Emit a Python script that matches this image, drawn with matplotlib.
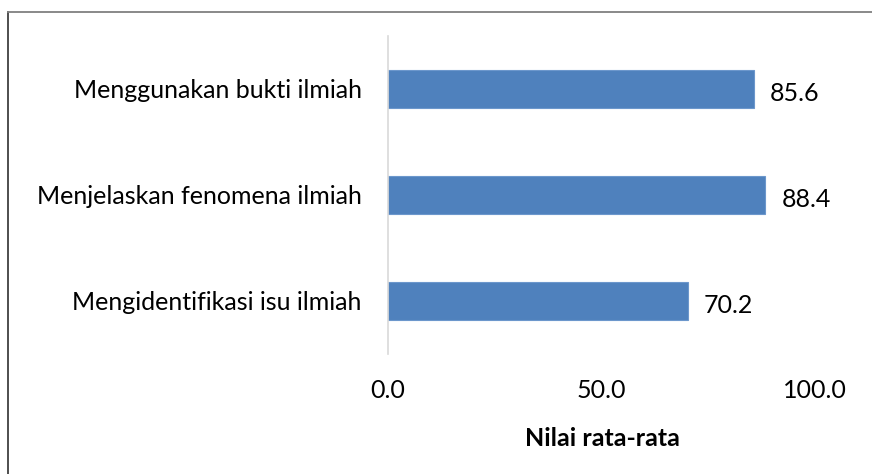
import matplotlib
matplotlib.use('Agg')
import matplotlib.pyplot as plt
from matplotlib.lines import Line2D

plt.rcParams['font.family'] = ['Lato', 'DejaVu Sans']

categories = ['Mengidentifikasi isu ilmiah', 'Menjelaskan fenomena ilmiah', 'Menggunakan bukti ilmiah']
values = [70.2, 88.4, 85.6]
xticks = [0, 50, 100]
xlabel = 'Nilai rata-rata'

BAR_COLOR = '#4F81BD'
FS = 18


def main():
    fig = plt.figure(figsize=(8.72, 4.74), dpi=100)
    ax = fig.add_axes([388/872, 1 - 354/474, (815 - 388)/872, (354 - 36)/474])

    y = range(len(categories))
    ax.barh(y, values, height=0.35, color=BAR_COLOR, edgecolor='#6C97CC', linewidth=0.8)
    for yi, v in zip(y, values):
        ax.text(v + 3.7, yi - 0.045, f'{v:.1f}', va='center', ha='left', fontsize=FS)

    ax.set_xlim(0, 100)
    ax.set_ylim(-0.5, 2.5)
    ax.set_xticks(xticks)
    ax.set_xticklabels([f'{t:.1f}' for t in xticks], fontsize=FS)
    ax.set_yticks(list(y))
    ax.set_yticklabels(categories, fontsize=FS)
    ax.tick_params(axis='both', length=0)
    ax.tick_params(axis='x', pad=18)
    ax.tick_params(axis='y', pad=19)

    for s in ['top', 'right', 'bottom']:
        ax.spines[s].set_visible(False)
    ax.spines['left'].set_color('#D9D9D9')
    ax.spines['left'].set_linewidth(1.2)

    fig.text(602/872, 1 - 438/474, xlabel, ha='center', va='center',
             fontsize=FS, fontweight='bold')

    # outer frame (only top and left visible in the crop)
    fig.add_artist(Line2D([8/872, 8/872], [0, 1 - 12/474], transform=fig.transFigure,
                          color='#404040', lw=1.3))
    fig.add_artist(Line2D([8/872, 1], [1 - 12/474, 1 - 12/474], transform=fig.transFigure,
                          color='#808080', lw=1.3))

    fig.savefig('out.png', dpi=100)


if __name__ == '__main__':
    main()
